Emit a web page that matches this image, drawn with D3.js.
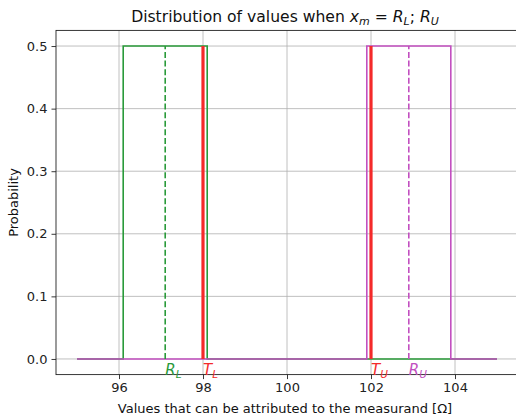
<!DOCTYPE html>
<html>
<head>
<meta charset="utf-8">
<script src="https://cdn.jsdelivr.net/npm/d3@7"></script>
<style>
  body { margin: 0; background: #fff; }
  text { font-family: "DejaVu Sans", sans-serif; }
</style>
</head>
<body>
<svg id="chart" width="516" height="419"></svg>
<script>
// data
var xTicks = [96, 98, 100, 102, 104];
var yTicks = [0, 0.1, 0.2, 0.3, 0.4, 0.5];
var lowerX = [95, 96.1, 96.1, 98.1, 98.1, 105];
var lowerY = [0, 0, 0.5, 0.5, 0, 0];
var upperX = [95, 101.9, 101.9, 103.9, 103.9, 105];
var upperY = [0, 0, 0.5, 0.5, 0, 0];
var readings = [97.1, 102.9];           // R_L, R_U (dashed)
var limits = [98, 102];                 // T_L, T_U (red)
var peak = 0.5;

var green = "#2a9a3a", magenta = "#c24fc0", red = "#f42a2a";

var svg = d3.select("#chart");
var plotL = 56, plotR = 518, plotT = 30.4, plotB = 374.6;

var x = d3.scaleLinear().domain([94.5, 105.5]).range([plotL, plotR]);
var y = d3.scaleLinear().domain([-0.025, 0.525]).range([plotB, plotT]);

// grid
svg.append("g").selectAll("line").data(xTicks).enter().append("line")
    .attr("x1", function(d) { return x(d); }).attr("x2", function(d) { return x(d); })
    .attr("y1", plotT).attr("y2", plotB)
    .style("stroke", "#b0b0b0").style("stroke-width", 0.8);
svg.append("g").selectAll("line").data(yTicks).enter().append("line")
    .attr("x1", plotL).attr("x2", plotR)
    .attr("y1", function(d) { return y(d); }).attr("y2", function(d) { return y(d); })
    .style("stroke", "#b0b0b0").style("stroke-width", 0.8);

// axes
var xAxis = svg.append("g").attr("transform", "translate(0," + plotB + ")")
    .call(d3.axisBottom(x).tickValues(xTicks).tickSize(4.5).tickPadding(4).tickSizeOuter(0));
var yAxis = svg.append("g").attr("transform", "translate(" + plotL + ",0)")
    .call(d3.axisLeft(y).tickValues(yTicks).tickFormat(d3.format(".1f")).tickSize(4.5).tickPadding(4).tickSizeOuter(0));
[xAxis, yAxis].forEach(function(a) {
    a.select(".domain").remove();
    a.selectAll("line").style("stroke", "#222").style("stroke-width", 0.9);
    a.selectAll("text").style("font-size", "13px").style("fill", "#222")
        .style("font-family", "DejaVu Sans, sans-serif");
});

// frame
svg.append("rect").attr("x", plotL).attr("y", plotT)
    .attr("width", plotR - plotL).attr("height", plotB - plotT)
    .style("fill", "none").style("stroke", "#222").style("stroke-width", 0.9);

var line = d3.line().x(function(d) { return x(d[0]); }).y(function(d) { return y(d[1]); });

function drawStep(xs, ys, col) {
    svg.append("path").datum(d3.zip(xs, ys)).attr("d", line)
        .style("fill", "none").style("stroke", col).style("stroke-width", 1.6);
}
drawStep(lowerX, lowerY, green);
drawStep(upperX, upperY, magenta);

// dashed readings
svg.append("g").selectAll("line").data(readings).enter().append("line")
    .attr("x1", function(d) { return x(d); }).attr("x2", function(d) { return x(d); })
    .attr("y1", y(0)).attr("y2", y(peak))
    .style("stroke", function(d, i) { return i == 0 ? green : magenta; })
    .style("stroke-width", 1.6).style("stroke-dasharray", "6,2.6");

// limits
svg.append("g").selectAll("line").data(limits).enter().append("line")
    .attr("x1", function(d) { return x(d); }).attr("x2", function(d) { return x(d); })
    .attr("y1", y(0)).attr("y2", y(peak))
    .style("stroke", red).style("stroke-width", 3.2);

// labels under the lines
var labels = [
    { v: readings[0], main: "R", sub: "L", col: green },
    { v: limits[0], main: "T", sub: "L", col: red },
    { v: limits[1], main: "T", sub: "U", col: red },
    { v: readings[1], main: "R", sub: "U", col: magenta }
];
labels.forEach(function(l) {
    var t = svg.append("text").attr("x", x(l.v)).attr("y", 375)
        .style("font-size", "15px").style("font-style", "italic").style("fill", l.col);
    t.append("tspan").text(l.main);
    t.append("tspan").attr("dy", 3).style("font-size", "10.5px").text(l.sub);
});

// title
var title = svg.append("text").attr("x", (plotL + plotR) / 2 - 2).attr("y", 22)
    .attr("text-anchor", "middle").style("font-size", "15.6px").style("fill", "#111");
title.append("tspan").text("Distribution of values when ");
title.append("tspan").style("font-style", "italic").text("x");
title.append("tspan").attr("dy", 3).style("font-size", "11px").style("font-style", "italic").text("m");
title.append("tspan").attr("dy", -3).text(" = ");
title.append("tspan").style("font-style", "italic").text("R");
title.append("tspan").attr("dy", 3).style("font-size", "11px").style("font-style", "italic").text("L");
title.append("tspan").attr("dy", -3).text("; ");
title.append("tspan").style("font-style", "italic").text("R");
title.append("tspan").attr("dy", 3).style("font-size", "11px").style("font-style", "italic").text("U");

svg.append("text").attr("x", (plotL + plotR) / 2 - 2).attr("y", 413)
    .attr("text-anchor", "middle").style("font-size", "13px").style("fill", "#111")
    .text("Values that can be attributed to the measurand [\u03a9]");

svg.append("text").attr("transform", "translate(18," + ((plotT + plotB) / 2) + ") rotate(-90)")
    .attr("text-anchor", "middle").style("font-size", "13px").style("fill", "#111")
    .text("Probability");
</script>
</body>
</html>
